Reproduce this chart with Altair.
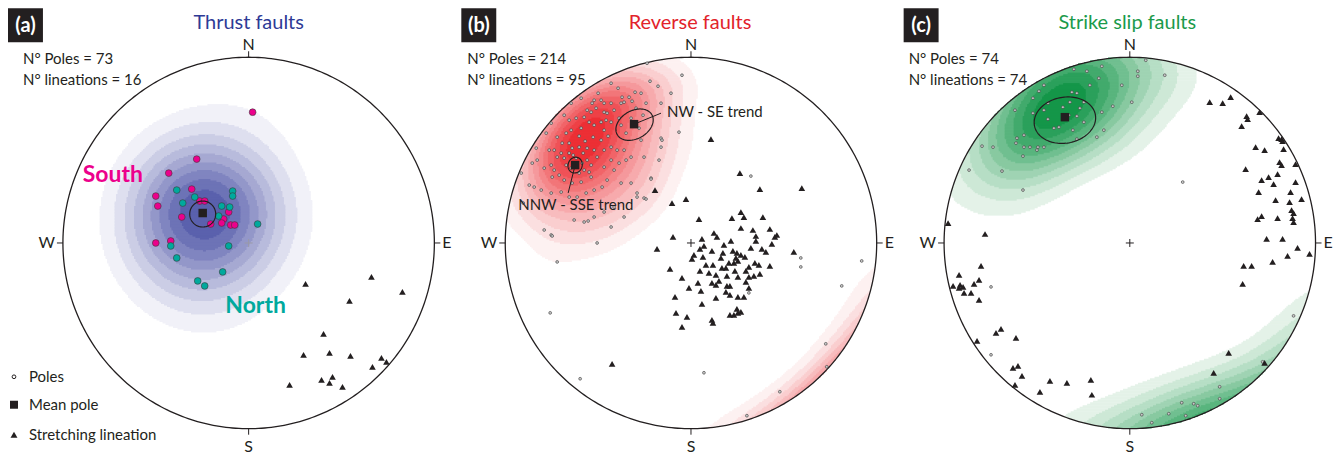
import numpy as np
import pandas as pd
import altair as alt

NET_R = 186          # primitive circle radius in net units
FONT = "Lato"
INK = "#231f20"

# ---------------- data (net units, x = east, y = north) ----------------
A_SOUTH = [(4,131),(-52,84),(-80,70),(-93,47),(-91,37),(-57,54),(-49,42),(-44,42),(-67,26),(-38,19),
           (-20,31),(-25,24),(-27,20),(-18,18),(-14,18),(-93,0),(-78,2)]
A_NORTH = [(-72,53),(-54,46),(-66,40),(-16,52),(-16,47),(-27,37),(-19,36),(-30,27),(9,19),(-78,-3),
           (-20,-3),(-72,-15),(-26,-29),(-51,-38),(-44,-43)]
A_LIN = [(57,-41),(123,-34),(154,-49),(101,-58),(75,-91),(55,-112),(81,-110),(102,-113),(133,-115),
         (138,-119),(124,-124),(41,-142),(73,-137),(84,-134),(81,-140),(94,-144)]
A_MEAN = [(-46,30)]
A_CONE = [(-46,29,13,13,0)]

B_POLES = [(-9,168),(-41,162),(-33,157),(-73,155),(-56,151),(-69,146),(-62,146),(-67,141),(-70,140),(-59,142),
           (-93,150),(-97,143),(-90,143),(-99,140),(-87,140),(-80,140),(-104,133),(-100,131),(-107,126),(-95,135),
           (-87,131),(-84,130),(-77,133),(-127,128),(-122,123),(-115,125),(-110,115),(-102,121),(-97,118),(-90,121),
           (-85,123),(-80,121),(-72,125),(-87,113),(-83,107),(-90,103),(-98,106),(-106,102),(-112,107),(-120,113),
           (-125,110),(-134,106),(-129,100),(-137,93),(-142,93),(-134,86),(-127,85),(-122,90),(-119,95),(-112,96),
           (-104,95),(-97,93),(-94,86),(-104,83),(-109,80),(-107,73),(-102,71),(-100,66),(-110,61),(-119,60),
           (-127,63),(-132,68),(-137,73),(-140,78),(-139,66),(-147,75),(-154,83),(-159,80),(-162,58),(-157,56),
           (-150,53),(-140,50),(-130,51),(-122,46),(-114,46),(-105,50),(-97,53),(-89,56),(-84,63),(-77,73),
           (-72,80),(-65,83),(-60,86),(-67,93),(-74,93),(-80,83),(-87,76),(-87,93),(-80,96),(-50,103),
           (-47,86),(-40,65),(-54,46),(-47,45),(-30,105),(-30,96),(-32,83),(-60,60),(-70,60),(-77,36),
           (-87,31),(-97,26),(-107,21),(-117,23),(-140,8),(-147,13),
           (-115,85),(-120,75),(-112,70),(-125,78),(-118,88),(-108,90),(-130,90),(-100,78),(-122,100),(-60,125),
           (-52,115),(-65,110),(-48,128),(-70,118),(-55,135),(-20,150),(-30,140),(-45,140),(-50,150),(-80,160),
           (-110,145),(-120,140),(-140,120),(-145,110),(-155,95),(-170,70),(-168,40),
           (-44,180),(-139,7),(-134,-19),(-94,0),(-80,16),(-103,22),(-141,-70),(-111,-136),(13,-130),(56,-173),
           (89,-149),(135,-101),(151,-43),(171,-18),(110,-15),(110,-24),(60,67),(58,-50),(-67,26),(-45,44),
           (-54,50),(-40,64),(-12,111),(-29,103),(136,-124)]
B_LIN = [(20,104),(49,70),(111,55),(69,54),(-36,53),(-19,40),(-5,44),(8,24),(41,25),(50,31),(53,26),(72,26),
         (50,15),(62,13),(79,14),(65,7),(65,2),(86,8),(84,6),(81,-1),(-18,6),(11,4),(23,10),(26,6),(13,-3),
         (9,-6),(-34,-6),(3,-12),(1,-16),(21,-8),(32,-10),(42,-8),(46,-10),(50,-12),(54,-14),(45,-15),(71,-6),
         (75,-9),(103,-9),(-21,-26),(15,-22),(22,-22),(31,-25),(35,-25),(43,-20),(47,-18),(58,-24),(64,-20),
         (68,-22),(79,-23),(9,-28),(18,-30),(25,-32),(44,-28),(58,-34),(63,-33),(69,-31),(-9,-35),(36,-33),
         (47,-34),(7,-40),(21,-40),(25,-42),(-2,-45),(10,-48),(36,-43),(39,-43),(55,-39),(35,-49),(39,-52),
         (47,-54),(53,-54),(-16,-54),(11,-61),(-15,-70),(-4,-74),(-9,-84),(21,-77),(22,-80),(39,-72),(43,-72),
         (46,-66),(50,-69),(47,-70),(-79,-121),(30,-15),(38,-20),(60,-5),(28,-38),(55,-28),(40,2),(33,-2),
         (12,-14),(25,-55),(58,-45)]
B_MEAN = [(-57,119),(-116,78)]
B_CONE = [(-56.5,118.5,20,14,30),(-116,78,8,7,70)]
B_NOTES = [("NW - SE trend", -24, 131), ("NNW - SSE trend", -173, 38)]
B_LEADERS = [(-57,119,-30,130),(-116,78,-123,50)]

C_POLES = [(-56,174),(-43,172),(-28,177),(8,172),(8,167),(-31,165),(-40,158),(-8,158),(-86,158),(-91,152),
           (-58,151),(-53,150),(-97,145),(-82,140),(-60,141),(-46,141),(-115,133),(-97,130),(-86,133),(-67,136),
           (-50,135),(-28,131),(-17,137),(2,141),(-82,124),(-71,116),(-57,113),(-53,127),(-61,128),(-76,115),
           (-46,121),(-106,108),(-113,105),(-114,100),(-106,96),(-100,96),(-92,96),(-86,96),(-93,93),(-107,87),
           (-137,96),(-148,97),(-161,73),(-128,72),(-107,53),(-53,104),(-33,106),(-26,113),(35,168),(16,183),
           (53,61),(-139,-44),(-139,-112),(164,-73),(133,-119),(90,-144),(90,-156),(52,-160),(64,-161),(68,-163),
           (39,-171),(56,-173),(12,-172),(22,-180)]
C_LIN = [(80,141),(93,140),(101,146),(130,131),(117,127),(118,124),(112,117),(149,105),(152,104),(153,102),
         (126,96),(135,93),(154,94),(150,81),(152,78),(166,79),(116,74),(139,66),(148,69),(132,63),(144,59),
         (166,61),(129,51),(161,51),(146,43),(160,41),(172,44),(162,33),(164,30),(163,25),(164,21),(128,24),
         (132,27),(148,25),(137,4),(153,4),(168,-5),(180,-11),(158,-13),(143,-19),(114,-23),(122,-23),(113,-41),
         (-182,20),(-145,9),(-149,-23),(-171,-32),(-151,-37),(-156,-41),(-177,-43),(-170,-42),(-167,-44),
         (-171,-45),(-166,-50),(-159,-50),(-151,-57),(-134,-90),(-129,-86),(-114,-95),(-153,-98),(-117,-125),
         (-112,-123),(-108,-133),(-115,-142),(-90,-149),(-80,-138),(-63,-140),(-39,-137),(-38,-152),
         (99,-110),(84,-130),(135,-120)]
C_MEAN = [(-65,126)]
C_CONE = [(-65,123,31,23,10)]

PANELS = [
    dict(tag="(a)", title="Thrust faults", tcolor="#2e3a96", poles="73", lins="16"),
    dict(tag="(b)", title="Reverse faults", tcolor="#e2232b", poles="214", lins="95"),
    dict(tag="(c)", title="Strike slip faults", tcolor="#1b9a4b", poles="74", lins="74"),
]

# ---------------- layout ----------------
PW, PH, CY = 440, 444, 235
CX = [241, 244, 243.5]


def to_vec(x, y):
    x = np.asarray(x, float) / NET_R
    y = np.asarray(y, float) / NET_R
    r = np.hypot(x, y)
    th = 2 * np.arcsin(np.clip(r / np.sqrt(2), 0, 1))
    safe = np.where(r > 0, r, 1.0)
    s = np.sin(th) / safe
    return np.stack([x * s, y * s, -np.cos(th)], axis=-1)


def hex2rgb(h):
    h = h.lstrip("#")
    return np.array([int(h[i:i + 2], 16) for i in (0, 2, 4)], float)


def density_cells(points, k, f0, n, light, dark, step=1.5):
    g = np.arange(-NET_R, NET_R + 1e-9, step)
    gx, gy = np.meshgrid(g, g)
    inside = np.hypot(gx, gy) <= NET_R - 0.3
    pts = np.array(points, float)
    P = to_vec(pts[:, 0], pts[:, 1])
    V = to_vec(gx, gy)
    d = np.exp(k * (np.abs(V @ P.T) - 1)).sum(-1)
    d = np.where(inside, d, 0)
    d = d / d.max()
    lev = np.where(d >= f0, np.minimum(n, 1 + np.floor((d - f0) / ((1 - f0) / n))), 0).astype(int)
    lo, hi = hex2rgb(light), hex2rgb(dark)
    cols = []
    for i in range(n):
        t = i / (n - 1)
        c = lo + (hi - lo) * t
        cols.append("#%02x%02x%02x" % tuple(int(round(v)) for v in c))
    rows = []
    for L in range(1, n + 1):
        m = lev >= L
        for i in range(m.shape[0]):
            r = m[i]
            if not r.any():
                continue
            dd = np.diff(np.concatenate([[0], r.astype(int), [0]]))
            starts = np.where(dd == 1)[0]
            ends = np.where(dd == -1)[0] - 1
            for s, e in zip(starts, ends):
                rows.append((round(g[s] - step / 2, 2), round(g[e] + step / 2, 2),
                             round(g[i] - step / 2 - 0.35, 2), round(g[i] + step / 2 + 0.35, 2), cols[L - 1]))
    return pd.DataFrame(rows, columns=["x1", "x2", "y1", "y2", "c"])


def circle_df():
    t = np.radians(np.arange(0, 361, 1))
    return pd.DataFrame({"x": NET_R * np.cos(t), "y": NET_R * np.sin(t), "o": np.arange(len(t))})


def cones_df(cones):
    rows = []
    t = np.radians(np.arange(0, 361, 3))
    for j, (cx, cy, a, b, ang) in enumerate(cones):
        p = np.radians(ang)
        xs = cx + a * np.cos(t) * np.cos(p) - b * np.sin(t) * np.sin(p)
        ys = cy + a * np.cos(t) * np.sin(p) + b * np.sin(t) * np.cos(p)
        for i, (x, y) in enumerate(zip(xs, ys)):
            rows.append((x, y, i, j))
    return pd.DataFrame(rows, columns=["x", "y", "o", "g"])


def pts(lst, **extra):
    df = pd.DataFrame(lst, columns=["x", "y"])
    for kk, v in extra.items():
        df[kk] = v
    return df


def make_panel(idx, cells, layers_fn):
    cx = CX[idx]
    sx = alt.Scale(domain=[-cx, PW - cx], nice=False, zero=False)
    sy = alt.Scale(domain=[CY - PH, CY], nice=False, zero=False)
    X = lambda f="x": alt.X(f"{f}:Q", scale=sx, axis=None)
    Y = lambda f="y": alt.Y(f"{f}:Q", scale=sy, axis=None)
    meta = PANELS[idx]
    L = []
    L.append(alt.Chart(cells).mark_rect(strokeWidth=0).encode(
        x=X("x1"), x2="x2:Q", y=Y("y1"), y2="y2:Q", color=alt.Color("c:N", scale=None)))
    L.append(alt.Chart(circle_df()).mark_line(color=INK, strokeWidth=1.3).encode(
        x=X(), y=Y(), order="o:Q"))
    ticks = pd.DataFrame([(0, NET_R, 0, NET_R + 6), (0, -NET_R, 0, -NET_R - 6),
                          (NET_R, 0, NET_R + 6, 0), (-NET_R, 0, -NET_R - 6, 0)],
                         columns=["x", "y", "x2", "y2"])
    L.append(alt.Chart(ticks).mark_rule(color=INK, strokeWidth=1).encode(
        x=X(), y=Y(), x2="x2:Q", y2="y2:Q"))
    L += layers_fn(X, Y)
    # cardinal labels
    card = pd.DataFrame([("N", 0, 198), ("S", 0, -204)], columns=["t", "x", "y"])
    L.append(alt.Chart(card).mark_text(font=FONT, fontSize=16, color=INK, baseline="middle").encode(
        x=X(), y=Y(), text="t:N"))
    L.append(alt.Chart(pd.DataFrame([("W", -194, 0)], columns=["t", "x", "y"])).mark_text(
        font=FONT, fontSize=16, color=INK, align="right", baseline="middle").encode(x=X(), y=Y(), text="t:N"))
    L.append(alt.Chart(pd.DataFrame([("E", 194, 0)], columns=["t", "x", "y"])).mark_text(
        font=FONT, fontSize=16, color=INK, align="left", baseline="middle").encode(x=X(), y=Y(), text="t:N"))
    # tag box
    bx = [-241, -230, -226.5][idx]
    box = pd.DataFrame([(bx, bx + 35, CY, CY - 34)], columns=["x1", "x2", "y1", "y2"])
    L.append(alt.Chart(box).mark_rect(color=INK).encode(x=X("x1"), x2="x2:Q", y=Y("y1"), y2="y2:Q"))
    L.append(alt.Chart(pd.DataFrame([(meta["tag"], bx + 17.5, CY - 17.5)], columns=["t", "x", "y"])).mark_text(
        font=FONT, fontSize=20, fontWeight="bold", color="white", baseline="middle").encode(
        x=X(), y=Y(), text="t:N"))
    tx = [0, -1, -2.5][idx]
    L.append(alt.Chart(pd.DataFrame([(meta["title"], tx, 220)], columns=["t", "x", "y"])).mark_text(
        font=FONT, fontSize=20, color=meta["tcolor"], baseline="middle").encode(x=X(), y=Y(), text="t:N"))
    lx = [-226, -224, -221.5][idx]
    counts = pd.DataFrame([("N° Poles = " + meta["poles"], lx, 184),
                           ("N° lineations = " + meta["lins"], lx, 163)], columns=["t", "x", "y"])
    L.append(alt.Chart(counts).mark_text(font=FONT, fontSize=15, color=INK, align="left",
                                         baseline="middle").encode(x=X(), y=Y(), text="t:N"))
    return alt.layer(*L).properties(width=PW, height=PH)


def tri_layer(X, Y, lst):
    return alt.Chart(pts(lst)).mark_point(shape="triangle-up", filled=True, size=44, color=INK,
                                          opacity=1).encode(x=X(), y=Y())


def pole_layer(X, Y, lst):
    return alt.Chart(pts(lst)).mark_point(shape="circle", filled=True, size=8, fill="#c8c8c8",
                                          stroke="#3a3a3a", strokeWidth=0.6, opacity=1).encode(x=X(), y=Y())


def mean_layer(X, Y, lst):
    return alt.Chart(pts(lst)).mark_point(shape="square", filled=True, size=72, color=INK,
                                          opacity=1).encode(x=X(), y=Y())


def cone_layer(X, Y, cones):
    return alt.Chart(cones_df(cones)).mark_line(color=INK, strokeWidth=1.2).encode(
        x=X(), y=Y(), order="o:Q", detail="g:N")


def centre_layer(X, Y, col):
    return alt.Chart(pts([(0, 0)])).mark_point(shape="M-1,0L1,0M0,-1L0,1", size=64, filled=False,
                                               color=col, strokeWidth=1, opacity=1).encode(x=X(), y=Y())


# ---------- panel a ----------
def layers_a(X, Y):
    cp = pd.concat([pts(A_SOUTH, c="#ec008c"), pts(A_NORTH, c="#00a99d")])
    out = [centre_layer(X, Y, "#9a9aa8"),
           alt.Chart(cp).mark_point(shape="circle", filled=True, size=46, stroke="#3a3a3a",
                                    strokeWidth=0.6, opacity=1).encode(
               x=X(), y=Y(), fill=alt.Fill("c:N", scale=None)),
           tri_layer(X, Y, A_LIN), cone_layer(X, Y, A_CONE), mean_layer(X, Y, A_MEAN)]
    lab = pd.DataFrame([("South", -136, 68, "#ec008c"), ("North", 7, -63, "#00a99d")],
                       columns=["t", "x", "y", "c"])
    out.append(alt.Chart(lab).mark_text(font=FONT, fontSize=23, fontWeight="bold", baseline="middle").encode(
        x=X(), y=Y(), text="t:N", color=alt.Color("c:N", scale=None)))
    # legend
    out.append(alt.Chart(pts([(-235, -134)])).mark_point(shape="circle", filled=False, size=14, color=INK,
                                                          strokeWidth=1, opacity=1).encode(x=X(), y=Y()))
    out.append(alt.Chart(pts([(-235, -162)])).mark_point(shape="square", filled=True, size=64, color=INK,
                                                          opacity=1).encode(x=X(), y=Y()))
    out.append(alt.Chart(pts([(-235, -192)])).mark_point(shape="triangle-up", filled=True, size=48,
                                                          color=INK, opacity=1).encode(x=X(), y=Y()))
    leg = pd.DataFrame([("Poles", -220, -134), ("Mean pole", -220, -162), ("Stretching lineation", -220, -192)],
                       columns=["t", "x", "y"])
    out.append(alt.Chart(leg).mark_text(font=FONT, fontSize=15, color=INK, align="left",
                                        baseline="middle").encode(x=X(), y=Y(), text="t:N"))
    return out


def layers_b(X, Y):
    notes = pd.DataFrame(B_NOTES, columns=["t", "x", "y"])
    lead = pd.DataFrame(B_LEADERS, columns=["x", "y", "x2", "y2"])
    return [pole_layer(X, Y, B_POLES), tri_layer(X, Y, B_LIN), centre_layer(X, Y, INK),
            cone_layer(X, Y, B_CONE), mean_layer(X, Y, B_MEAN),
            alt.Chart(lead).mark_rule(color=INK, strokeWidth=1).encode(x=X(), y=Y(), x2="x2:Q", y2="y2:Q"),
            alt.Chart(notes).mark_text(font=FONT, fontSize=15, color=INK, align="left",
                                       baseline="middle").encode(x=X(), y=Y(), text="t:N")]


def layers_c(X, Y):
    return [pole_layer(X, Y, C_POLES), tri_layer(X, Y, C_LIN), centre_layer(X, Y, INK),
            cone_layer(X, Y, C_CONE), mean_layer(X, Y, C_MEAN)]


cells_a = density_cells(A_SOUTH + A_NORTH, k=9, f0=0.12, n=9, light="#f1f1f8", dark="#5a61ad")
cells_b = density_cells(B_POLES, k=26, f0=0.1, n=12, light="#fdf1f1", dark="#ec2f35")
cells_c = density_cells(C_POLES, k=15, f0=0.13, n=10, light="#e4f2e8", dark="#149649")

pa = make_panel(0, cells_a, layers_a)
pb = make_panel(1, cells_b, layers_b)
pc = make_panel(2, cells_c, layers_c)

chart = alt.hconcat(pa, pb, pc, spacing=0, bounds="flush").properties(padding=0).resolve_scale(
    x="independent", y="independent").configure_view(stroke=None)

chart.save("out.html", embed_options={"renderer": "svg", "actions": False})
